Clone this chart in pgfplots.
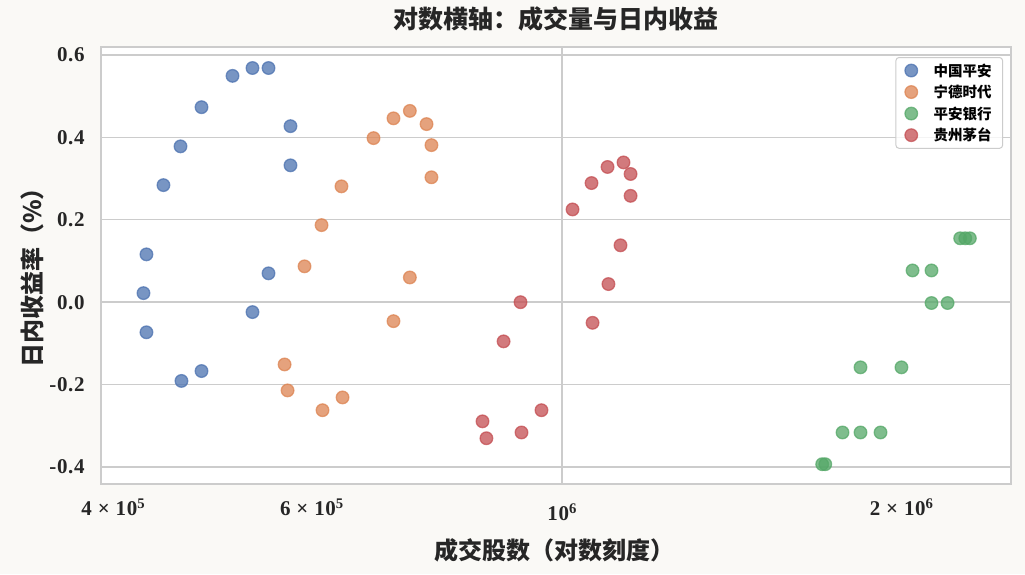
\documentclass[border=0pt]{standalone}
\usepackage{fontspec}
\setmainfont{Liberation Serif}
\newfontfamily\cjk{Noto Sans CJK SC}
\usepackage{pgfplots}
\pgfplotsset{compat=1.18}

\definecolor{c1}{HTML}{4C72B0}
\definecolor{c2}{HTML}{DD8452}
\definecolor{c3}{HTML}{55A868}
\definecolor{c4}{HTML}{C44E52}
\definecolor{bg}{RGB}{250,249,246}
\definecolor{gridc}{HTML}{CCCCCC}

\pgfplotsset{
  dot/.style={only marks, mark=*, mark size=6.3pt,
    mark options={fill=#1, draw=#1, fill opacity=0.75, draw opacity=0.75, line width=1.3pt}},
}

\begin{document}
\begin{tikzpicture}[x=1pt,y=1pt]
\fill[bg] (0,0) rectangle (1025,574);
\begin{axis}[
  at={(101pt,90pt)}, anchor=south west,
  scale only axis, width=910pt, height=437pt,
  xmode=log, log basis x=10,
  xmin=3.902e5, xmax=2.50e6,
  ymin=-0.441, ymax=0.619,
  axis background/.style={fill=white},
  axis line style={draw=gridc, line width=1.8pt},
  major tick length=0pt, minor tick length=0pt,
  xtick={4e5,6e5,2e6},
  xticklabels={4 × 10\textsuperscript{5}, 6 × 10\textsuperscript{5}, 2 × 10\textsuperscript{6}},
  extra x ticks={1e6},
  extra x tick labels={10\textsuperscript{6}},
  extra x tick style={grid=major, xticklabel style={yshift=-5pt}},
  ytick={-0.4,-0.2,0,0.2,0.4,0.6},
  yticklabels={-0.4,-0.2,0.0,0.2,0.4,0.6},
  ymajorgrids=true,
  grid style={draw=gridc, line width=1.5pt},
  ticklabel style={font=\fontsize{21}{25}\selectfont\bfseries\addfontfeature{LetterSpace=3},
    text=black!85},
  xticklabel style={yshift=-11pt},
  yticklabel style={xshift=-13pt},
  title={\cjk\bfseries 对数横轴：成交量与日内收益},
  title style={font=\fontsize{25}{30}\selectfont, text=black!85,
    at={(axis description cs:0.5,1.0503)}, anchor=center},
  xlabel={\cjk\bfseries 成交股数（对数刻度）},
  xlabel style={font=\fontsize{24}{28}\selectfont, text=black!85,
    at={(axis description cs:0.4978,-0.151)}, anchor=center},
  ylabel={\cjk\bfseries 日内收益率（\%）},
  ylabel style={font=\fontsize{24}{28}\selectfont, text=black!85,
    at={(axis description cs:-0.0758,0.485)}, anchor=center},
  legend style={at={(axis description cs:0.9912,0.977)}, anchor=north east,
    draw=gridc, line width=1pt, rounded corners=3pt, fill=white, fill opacity=0.8,
    text opacity=1, font=\cjk\bfseries\fontsize{14.5}{16}\selectfont,
    row sep=3.5pt, column sep=14pt, inner xsep=9pt, inner ysep=4pt},
  legend cell align=left,
]
\addplot[dot=c1] coordinates {
  (5.102e5,0.549) (5.314e5,0.568) (5.491e5,0.568) (4.789e5,0.473)
  (5.743e5,0.427) (4.588e5,0.378) (5.743e5,0.332) (4.431e5,0.284)
  (4.280e5,0.116) (5.491e5,0.070) (4.254e5,0.022) (5.314e5,-0.024)
  (4.280e5,-0.073) (4.789e5,-0.167) (4.597e5,-0.191)
};
\addlegendentry{中国平安}
\addplot[dot=c2] coordinates {
  (7.328e5,0.464) (7.087e5,0.446) (7.582e5,0.432) (6.804e5,0.398)
  (7.659e5,0.381) (7.659e5,0.303) (6.373e5,0.281) (6.119e5,0.187)
  (5.910e5,0.087) (7.328e5,0.060) (7.087e5,-0.046) (5.674e5,-0.151)
  (5.709e5,-0.214) (6.387e5,-0.231) (6.131e5,-0.262)
};
\addlegendentry{宁德时代}
\addplot[dot=c3] coordinates {
  (2.2533e6,0.155) (2.2768e6,0.155) (2.2983e6,0.155)
  (2.0445e6,0.077) (2.1252e6,0.077) (2.1252e6,-0.002) (2.1961e6,-0.002)
  (1.8386e6,-0.158) (1.9990e6,-0.158)
  (1.7722e6,-0.316) (1.8386e6,-0.316) (1.9152e6,-0.316)
  (1.7002e6,-0.393) (1.7109e6,-0.393)
};
\addlegendentry{平安银行}
\addplot[dot=c4] coordinates {
  (1.1333e6,0.339) (1.0970e6,0.328) (1.1498e6,0.311) (1.0617e6,0.289)
  (1.1498e6,0.258) (1.0213e6,0.225) (1.1264e6,0.138) (1.0990e6,0.044)
  (9.184e5,0.000) (1.0639e6,-0.050) (8.872e5,-0.095) (9.586e5,-0.262)
  (8.499e5,-0.289) (9.203e5,-0.316) (8.567e5,-0.330)
};
\addlegendentry{贵州茅台}
\end{axis}
\end{tikzpicture}
\end{document}
